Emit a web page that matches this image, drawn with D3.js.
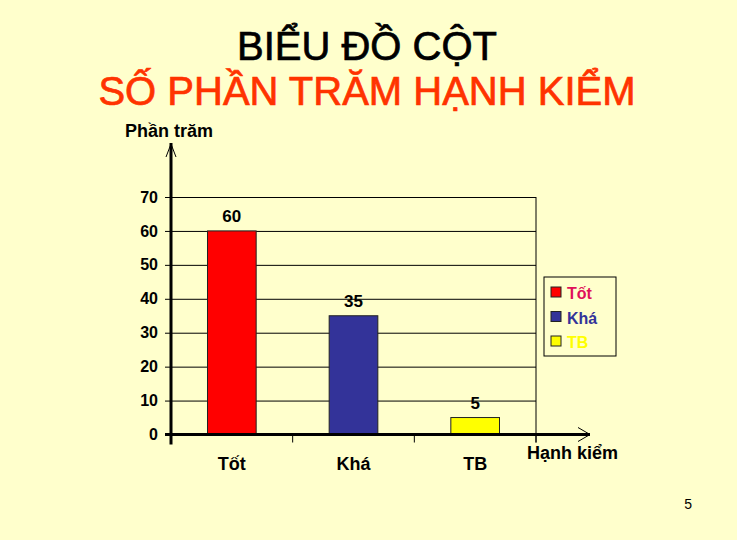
<!DOCTYPE html>
<html>
<head>
<meta charset="utf-8">
<script src="https://cdn.jsdelivr.net/npm/d3@7"></script>
<style>
  html, body { margin: 0; padding: 0; background: #ffffcc; }
  svg { display: block; font-family: "Liberation Sans", Arial, sans-serif; }
</style>
</head>
<body>
<svg id="chart" width="737" height="540"></svg>
<script>
// du lieu bieu do
const categories = ["Tốt", "Khá", "TB"];
const values = [60, 35, 5];
const barColors = ["#ff0000", "#333399", "#ffff00"];
const legendColors = ["#e0105a", "#333399", "#ffff00"];
const yTicks = [0, 10, 20, 30, 40, 50, 60, 70];

const svg = d3.select("#chart");

// khung ve
const plotLeft = 171, plotRight = 536, plotTop = 197, plotBottom = 434.5;

const x = d3.scaleBand()
  .domain(categories)
  .range([plotLeft, plotRight])
  .paddingInner(0.6)
  .paddingOuter(0.3);

const y = d3.scaleLinear()
  .domain([0, 70])
  .range([plotBottom, plotTop]);

// nen
svg.append("rect")
  .attr("width", 737).attr("height", 540)
  .attr("fill", "#ffffcc");

// tieu de
svg.append("text")
  .attr("x", 367).attr("y", 60)
  .attr("text-anchor", "middle")
  .attr("font-size", "40px")
  .attr("fill", "#000")
  .attr("stroke", "#000").attr("stroke-width", 0.7)
  .text("BIỂU ĐỒ CỘT");

svg.append("text")
  .attr("x", 367).attr("y", 105)
  .attr("text-anchor", "middle")
  .attr("font-size", "40px")
  .attr("fill", "#ff3300")
  .attr("stroke", "#ff3300").attr("stroke-width", 0.7)
  .text("SỐ PHẦN TRĂM HẠNH KIỂM");

// luoi ngang
const grid = svg.append("g")
  .attr("transform", `translate(${plotLeft},0)`)
  .call(d3.axisLeft(y).tickValues(yTicks.slice(1)).tickSize(-(plotRight - plotLeft)).tickFormat(""));
grid.select(".domain").remove();
grid.selectAll("line").attr("stroke", "#000").attr("stroke-width", 1);

// vien phai
svg.append("line")
  .attr("x1", plotRight).attr("x2", plotRight)
  .attr("y1", y(70)).attr("y2", y(0) + 8)
  .attr("stroke", "#000");

// vach chia truc ngang
const step = x.step();
svg.selectAll(".xtick")
  .data(categories)
  .enter().append("line")
  .attr("x1", (d, i) => plotLeft + step * (i + 1))
  .attr("x2", (d, i) => plotLeft + step * (i + 1))
  .attr("y1", y(0)).attr("y2", y(0) + 8)
  .attr("stroke", "#000");

// cot
svg.selectAll(".bar")
  .data(values)
  .enter().append("rect")
  .attr("x", (d, i) => x(categories[i]))
  .attr("y", d => y(d))
  .attr("width", x.bandwidth())
  .attr("height", d => y(0) - y(d))
  .attr("fill", (d, i) => barColors[i])
  .attr("stroke", "#222")
  .attr("stroke-width", 1);

// so tren cot
svg.selectAll(".val")
  .data(values)
  .enter().append("text")
  .attr("x", (d, i) => x(categories[i]) + x.bandwidth() / 2)
  .attr("y", d => y(d) - 9)
  .attr("text-anchor", "middle")
  .attr("font-size", "17px")
  .attr("font-weight", "bold")
  .text(d => d);

// truc doc
const yAxis = svg.append("g")
  .attr("transform", `translate(${plotLeft},0)`)
  .call(d3.axisLeft(y).tickValues(yTicks).tickSize(6).tickPadding(7));
yAxis.select(".domain").remove();
yAxis.selectAll("line").attr("stroke", "#000");
yAxis.selectAll("text")
  .attr("font-size", "16px")
  .attr("font-weight", "bold")
  .attr("fill", "#000")
  .attr("font-family", "Liberation Sans, Arial, sans-serif");

svg.append("line")
  .attr("x1", plotLeft).attr("x2", plotLeft)
  .attr("y1", 143).attr("y2", y(0) + 10)
  .attr("stroke", "#000").attr("stroke-width", 3);
svg.append("polyline")
  .attr("points", `${plotLeft - 5},157 ${plotLeft},144 ${plotLeft + 5},157`)
  .attr("fill", "none").attr("stroke", "#000");

// truc ngang
svg.append("line")
  .attr("x1", plotLeft - 6).attr("x2", 590)
  .attr("y1", y(0)).attr("y2", y(0))
  .attr("stroke", "#000").attr("stroke-width", 3);
svg.append("polyline")
  .attr("points", `578,${y(0) - 7} 590,${y(0)} 578,${y(0) + 7}`)
  .attr("fill", "none").attr("stroke", "#000");

// nhan danh muc
svg.selectAll(".cat")
  .data(categories)
  .enter().append("text")
  .attr("x", d => x(d) + x.bandwidth() / 2)
  .attr("y", 470)
  .attr("text-anchor", "middle")
  .attr("font-size", "18px")
  .attr("font-weight", "bold")
  .text(d => d);

// ten truc
svg.append("text")
  .attr("x", 125).attr("y", 137)
  .attr("font-size", "18px").attr("font-weight", "bold")
  .text("Phần trăm");

svg.append("text")
  .attr("x", 527).attr("y", 459)
  .attr("font-size", "18px").attr("font-weight", "bold")
  .text("Hạnh kiểm");

// chu giai
const legend = svg.append("g");
legend.append("rect")
  .attr("x", 544).attr("y", 277)
  .attr("width", 72).attr("height", 79)
  .attr("fill", "#ffffcc").attr("stroke", "#000");

const items = legend.selectAll(".item")
  .data(categories)
  .enter().append("g")
  .attr("transform", (d, i) => `translate(551,${287 + i * 24.5})`);
items.append("rect")
  .attr("width", 10).attr("height", 10)
  .attr("fill", (d, i) => barColors[i])
  .attr("stroke", "#222");
items.append("text")
  .attr("x", 16).attr("y", 12)
  .attr("font-size", "16px").attr("font-weight", "bold")
  .attr("fill", (d, i) => legendColors[i])
  .text(d => d);

// so trang
svg.append("text")
  .attr("x", 692).attr("y", 509)
  .attr("text-anchor", "end")
  .attr("font-size", "14px")
  .text("5");
</script>
</body>
</html>
